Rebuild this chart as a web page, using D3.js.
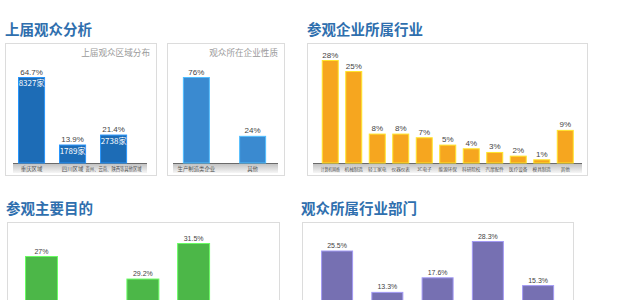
<!DOCTYPE html>
<html>
<head>
<meta charset="utf-8">
<script src="https://cdn.jsdelivr.net/npm/d3@7"></script>
<style>
	body { margin: 0; background: #fff; }
	svg { display: block; font-family: "Noto Sans CJK SC", "Noto Sans", sans-serif; }
</style>
</head>
<body>
<div id="chart"></div>
<script>
// values
const regionCats = ['重庆区域', '四川区域', '贵州、云南、陕西等其他区域'];
const regionValues = [64.7, 13.9, 21.4];
const regionCounts = ['8327家', '1789家', '2738家'];

const natureCats = ['生产制造类企业', '其他'];
const natureValues = [76, 24];

const industryCats = ['计算机网络', '机械制造', '轻工家电', '仪器仪表', '3C电子', '能源环保', '科研院校', '汽摩配件', '医疗设备', '模具制造', '其他'];
const industryValues = [28, 25, 8, 8, 7, 5, 4, 3, 2, 1, 9];

const purposeCats = ['了解新产品', '寻找供应商', '技术交流', '采购', '其他'];
const purposeValues = [27, 6, 19.2, 31.5, 4];
const purposeLabels = ['27%', '6%', '29.2%', '31.5%', '4%'];

const deptCats = ['生产管理', '采购部门', '研发设计', '技术部门', '其他'];
const deptValues = [25.5, 13.3, 17.6, 28.3, 15.3];

const width = 640, height = 300;
const titleColor = '#2f6fae';

const svg = d3.select('#chart').append('svg')
	.attr('width', width)
	.attr('height', height);

const defs = svg.append('defs');
const grad = defs.append('linearGradient')
	.attr('id', 'band')
	.attr('x1', 0).attr('y1', 0).attr('x2', 0).attr('y2', 1);
grad.append('stop').attr('offset', '0%').attr('stop-color', '#bdbdbd');
grad.append('stop').attr('offset', '100%').attr('stop-color', '#f6f6f6');

const _title = (text, x, y) => {
	svg.append('text')
		.attr('x', x)
		.attr('y', y)
		.attr('fill', titleColor)
		.attr('font-size', 14.5)
		.attr('font-weight', 600)
		.text(text);
};

const _drawPanel = (opt) => {
	const {box, cats, values, labels, inner, color, xRange, pIn, pOut, yRange, subtitle, axis, valueSize, catSize, catMax} = opt;
	const g = svg.append('g');
	const rows = values.map((v, i) => ({
		cat: cats[i],
		value: v,
		label: labels ? labels[i] : v + '%',
		inner: inner ? inner[i] : null
	}));

	g.append('rect')
		.attr('x', box[0] + 0.5).attr('y', box[1] + 0.5)
		.attr('width', box[2]).attr('height', box[3])
		.attr('fill', '#fff')
		.attr('stroke', '#dcdcdc');

	if (subtitle) {
		g.append('text')
			.attr('x', box[0] + box[2] - 6)
			.attr('y', box[1] + 13)
			.attr('text-anchor', 'end')
			.attr('fill', '#9a9a9a')
			.attr('font-size', 8.6)
			.text(subtitle);
	}

	const x = d3.scaleBand()
		.domain(cats)
		.range(xRange)
		.paddingInner(pIn)
		.paddingOuter(pOut);

	const y = d3.scaleLinear()
		.domain([0, d3.max(values)])
		.range(yRange);

	const cx = d => x(d.cat) + x.bandwidth() / 2;

	if (axis) {
		g.append('rect')
			.attr('x', axis[0]).attr('y', yRange[0])
			.attr('width', axis[1] - axis[0]).attr('height', 10)
			.attr('fill', 'url(#band)');
		g.append('line')
			.attr('x1', axis[0]).attr('x2', axis[1])
			.attr('y1', yRange[0] + 0.5).attr('y2', yRange[0] + 0.5)
			.attr('stroke', '#6a6a6a')
			.attr('stroke-width', 1.2);
		g.selectAll('.cat')
			.data(cats)
			.enter()
			.append('text')
			.attr('class', 'cat')
			.attr('x', d => x(d) + x.bandwidth() / 2)
			.attr('y', yRange[0] + 7.5)
			.attr('text-anchor', 'middle')
			.attr('fill', '#555')
			.attr('font-size', catSize)
			.text(d => d)
			.each(function() {
				const w = this.getComputedTextLength();
				if (w > catMax) {
					d3.select(this)
						.attr('textLength', catMax)
						.attr('lengthAdjust', 'spacingAndGlyphs');
				}
			});
	}

	const items = g.selectAll('.bar')
		.data(rows)
		.enter()
		.append('g')
		.attr('class', 'bar');

	items.append('rect')
		.attr('x', d => x(d.cat) + 0.5)
		.attr('y', d => y(d.value) + 0.5)
		.attr('width', x.bandwidth() - 1)
		.attr('height', d => y(0) - y(d.value) - 0.5)
		.attr('fill', color)
		.attr('stroke', d3.color(color).brighter(0.9))
		.attr('stroke-width', 1);

	// labels of bars whose top lies below the visible area are left out
	items.filter(d => y(d.value) - 2.5 < height)
		.append('text')
		.attr('x', cx)
		.attr('y', d => y(d.value) - 2.5)
		.attr('text-anchor', 'middle')
		.attr('fill', '#444')
		.attr('font-family', 'Arial, "Liberation Sans", sans-serif')
		.attr('font-size', valueSize)
		.text(d => d.label);

	if (inner) {
		items.append('text')
			.attr('x', cx)
			.attr('y', d => y(d.value) + 9)
			.attr('text-anchor', 'middle')
			.attr('fill', '#fff')
			.attr('font-size', 8)
			.text(d => d.inner);
	}
};

_title('上届观众分析', 5, 35);
_title('参观企业所属行业', 307, 35);
_title('参观主要目的', 6, 214);
_title('观众所属行业部门', 301, 214);

_drawPanel({
	box: [5, 43, 151, 132], cats: regionCats, values: regionValues, inner: regionCounts,
	color: '#1d6cb6', xRange: [5.7, 139.4], pIn: 0.34, pOut: 0.3, yRange: [163, 77],
	subtitle: '上届观众区域分布', axis: [13, 147], valueSize: 8, catSize: 5.4, catMax: 56
});

_drawPanel({
	box: [167, 43, 117, 132], cats: natureCats, values: natureValues,
	color: '#3a8ad0', xRange: [166, 283], pIn: 0.52, pOut: 0.3, yRange: [163, 77],
	subtitle: '观众所在企业性质', axis: [173, 278], valueSize: 8, catSize: 5.4, catMax: 50
});

_drawPanel({
	box: [307, 43, 280, 132], cats: industryCats, values: industryValues,
	color: '#f6a61f', xRange: [310, 585.5], pIn: 0.277, pOut: 0.5, yRange: [163, 60],
	axis: [313, 582], valueSize: 8, catSize: 4.6, catMax: 19
});

_drawPanel({
	box: [7, 222, 272, 120], cats: purposeCats, values: purposeValues, labels: purposeLabels,
	color: '#4cb748', xRange: [9.8, 276], pIn: 0.35, pOut: 0.3, yRange: [334, 243],
	valueSize: 7
});

_drawPanel({
	box: [302, 222, 271, 120], cats: deptCats, values: deptValues,
	color: '#7670b2', xRange: [306, 569.2], pIn: 0.363, pOut: 0.3, yRange: [337, 241],
	valueSize: 7
});
</script>
</body>
</html>
